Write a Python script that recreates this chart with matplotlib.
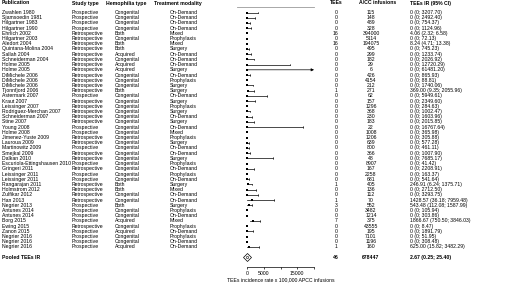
import matplotlib
matplotlib.use("Agg")
import matplotlib.pyplot as plt
from matplotlib.transforms import blended_transform_factory

plt.rcParams['font.family'] = ['Liberation Sans', 'DejaVu Sans']

publications = [
    "Zwahlen 1980", "Sjamsoedin 1981", "Hilgartner 1983", "Hilgartner 1990",
    "Ehrlich 2002", "Hilgartner 2003", "Aledort 2004", "Quintana-Molina 2004",
    "Sallah 2004", "Schneiderman 2004", "Holme 2005", "Holme 2005",
    "DiMichele 2006", "DiMichele 2006", "DiMichele 2006", "Tjonnfjord 2006",
    "Astermark 2007", "Kraut 2007", "Leissinger 2007", "Rodriguez-Merchan 2007",
    "Schneiderman 2007", "Stine 2007", "Young 2008", "Holme 2008",
    "Jimenez-Yuste 2009", "Lauroua 2009", "Martinowitz 2009", "Smejkal 2009",
    "Dalkan 2010", "Escuriola-Ettingshausen 2010", "Gringeri 2011", "Leissinger 2011",
    "Leissinger 2011", "Rangarajan 2011", "Holmstrom 2012", "Zulfikar 2012",
    "Han 2013", "Negrier 2013", "Antunes 2014", "Antunes 2014",
    "Borg 2015", "Ewing 2015", "Zanon 2015", "Negrier 2016",
    "Negrier 2016", "Negrier 2016",
]
P, R = "Prospective", "Retrospective"
study_type = [P, P, P, P, R, R, R, R, R, R, R, R, R, R, R, R, P, R, R, R, R, R, P, P,
              R, R, P, R, R, P, R, P, P, R, R, R, R, P, P, P, P, R, P, P, P, P]
C, A, B = "Congenital", "Acquired", "Both"
hemophilia_type = [C, C, C, C, B, C, B, B, A, C, A, A, C, C, C, B, C, C, C, C, C, C, C, C,
                   C, C, C, C, C, C, C, C, C, B, B, C, C, B, C, C, A, C, A, C, C, A]
OD, PR, SU, MI = "On-Demand", "Prophylaxis", "Surgery", "Mixed"
treatment = [OD, OD, OD, OD, MI, PR, MI, SU, OD, OD, OD, SU, OD, PR, SU, SU, OD, SU, PR, SU,
             OD, SU, OD, MI, PR, SU, OD, OD, SU, PR, OD, PR, OD, SU, MI, OD, OD, SU, PR, OD,
             MI, PR, OD, PR, OD, OD]
tees = [0, 0, 0, 0, 16, 0, 16, 0, 0, 0, 0, 0, 0, 0, 0, 1, 0, 0, 0, 0, 0, 0, 0, 0,
        0, 0, 0, 0, 0, 0, 0, 0, 0, 1, 0, 0, 1, 3, 0, 0, 7, 0, 0, 0, 0, 1]
infusions = [115, 148, 489, 328, 394000, 5114, 194075, 495, 299, 182, 29, 6,
             426, 4154, 212, 271, 62, 157, 1296, 368, 230, 183, 22, 1008,
             1206, 639, 800, 366, 48, 8907, 167, 2258, 681, 405, 136, 112,
             70, 552, 3482, 1214, 375, 43555, 195, 7101, 1196, 160]
ir = [0, 0, 0, 0, 4.06, 0, 8.24, 0, 0, 0, 0, 0, 0, 0, 0, 369.00, 0, 0, 0, 0, 0, 0, 0, 0,
      0, 0, 0, 0, 0, 0, 0, 0, 0, 246.91, 0, 0, 1428.57, 543.48, 0, 0, 1866.67, 0, 0, 0, 0, 625.00]
ir_lo = [0, 0, 0, 0, 2.32, 0, 4.71, 0, 0, 0, 0, 0, 0, 0, 0, 9.35, 0, 0, 0, 0, 0, 0, 0, 0,
         0, 0, 0, 0, 0, 0, 0, 0, 0, 6.24, 0, 0, 36.18, 112.08, 0, 0, 750.50, 0, 0, 0, 0, 15.82]
ir_hi = [3207.70, 2492.40, 754.37, 1124.96, 6.58, 72.13, 13.38, 745.23, 1233.74, 2026.92,
         12720.29, 61481.20, 865.93, 88.81, 1740.06, 2055.96, 5949.61, 2349.60, 284.63, 1002.47,
         1603.96, 2015.85, 16767.64, 365.98, 305.88, 577.28, 461.11, 1007.90, 7685.17, 41.42,
         2208.91, 163.37, 541.64, 1375.71, 2712.50, 3293.75, 7959.48, 1587.99, 105.94, 303.86,
         3846.03, 8.47, 1891.79, 51.95, 308.48, 3482.29]

pooled_tees = 46
pooled_infusions = 678447
pooled_ir, pooled_lo, pooled_hi = 2.67, 0.25, 25.40

xticks = [0, 5000, 10000, 15000, 20000]
xticklabels = ["0", "5000", "", "15000", ""]
xmax = 20000

W, H = 520, 288
fig = plt.figure(figsize=(W / 100, H / 100), dpi=100)

# forest plot area in pixels
x0, x1, ytop, ybot = 247, 314, 7, 267
ax = fig.add_axes([x0 / W, 1 - ybot / H, (x1 - x0) / W, (ybot - ytop) / H])
row0, step = 12.5, 5.21
ax.set_ylim(1 + (ybot - row0) / step, 1 - (row0 - ytop) / step)
ax.set_xlim(0, xmax)

rows = list(range(1, len(publications) + 1))
pooled_row = len(publications) + 2

for r, e, lo, hi in zip(rows, ir, ir_lo, ir_hi):
    if hi > xmax:
        ax.annotate("", xy=(xmax, r), xytext=(lo, r),
                    arrowprops=dict(arrowstyle="-|>", color="black", lw=0.5,
                                    mutation_scale=4, shrinkA=0, shrinkB=0),
                    annotation_clip=False)
    elif hi > 400:
        ax.plot([lo, hi], [r, r], color="black", lw=0.5, clip_on=False)
        ax.plot([hi, hi], [r - 0.17, r + 0.17], color="black", lw=0.4, clip_on=False)
    ax.plot(e, r, marker="s", ms=1.9, mew=0, color="black", clip_on=False)

ax.plot(pooled_ir, pooled_row, marker="D", ms=4, mfc="white", mec="black", mew=0.5, clip_on=False)
ax.plot(pooled_ir, pooled_row, marker="o", ms=1.6, mfc="white", mec="black", mew=0.4, clip_on=False)

fs = 3.7
for s in ["top", "right", "left"]:
    ax.spines[s].set_visible(False)
ax.spines["bottom"].set_linewidth(0.5)
ax.spines["bottom"].set_bounds(0, xmax)
ax.set_yticks([])
ax.set_xticks(xticks)
ax.set_xticklabels(xticklabels)
ax.tick_params(axis="x", length=1.6, width=0.5, pad=1.2, labelsize=fs)
ax.set_xlabel("TEEs incidence rate x 100,000 APCC infusions", fontsize=fs, labelpad=1.0)
ax.axhline(1 - (row0 - ytop) / step, xmin=-0.15, xmax=1.0, color="#9a9a9a", lw=0.6, clip_on=False)
ax.patch.set_visible(False)

tr = blended_transform_factory(fig.transFigure, ax.transData)
header_row = 1 - (row0 - 3) / step

def col(x, text, row, ha="left", bold=False):
    ax.text(x / W, row, text, transform=tr, ha=ha, va="center", fontsize=fs,
            fontweight="bold" if bold else "normal", clip_on=False)

col(2, "Publication", header_row, bold=True)
col(72, "Study type", header_row, bold=True)
col(106, "Hemophilia type", header_row, bold=True)
col(154, "Treatment modality", header_row, bold=True)
col(336, "TEEs", header_row, ha="center", bold=True)
col(378, "A/CC infusions", header_row, ha="center", bold=True)
col(410, "TEEs IR (95% CI)", header_row, bold=True)

def fmt_ir(e, lo, hi):
    if e == 0:
        return "0 (0; %.2f)" % hi
    return "%.2f (%.2f; %.2f)" % (e, lo, hi)

for i, r in enumerate(rows):
    col(2, publications[i], r)
    col(72, study_type[i], r)
    col(115, hemophilia_type[i], r)
    col(170, treatment[i], r)
    col(336, str(tees[i]), r, ha="center")
    col(371, str(infusions[i]), r, ha="center")
    col(410, fmt_ir(ir[i], ir_lo[i], ir_hi[i]), r)

col(2, "Pooled TEEs IR", pooled_row, bold=True)
col(336, str(pooled_tees), pooled_row, ha="center", bold=True)
col(371, str(pooled_infusions), pooled_row, ha="center", bold=True)
col(410, "%.2f (%.2f; %.2f)" % (pooled_ir, pooled_lo, pooled_hi), pooled_row, bold=True)

fig.savefig("out.png", dpi=100)
